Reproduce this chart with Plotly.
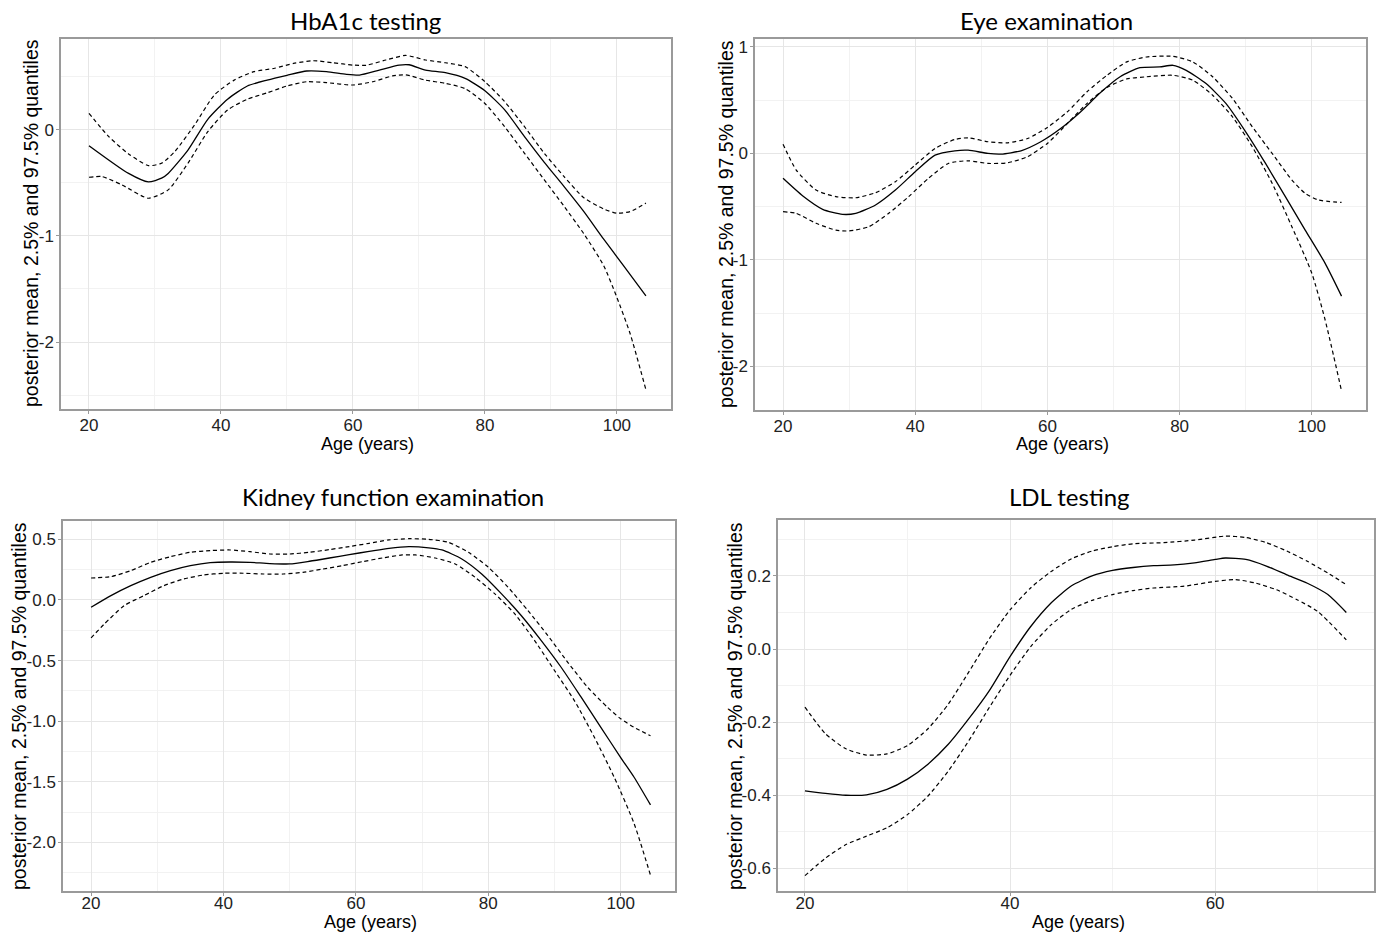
import plotly.graph_objects as go

W, H = 1379, 934

# ---------------- Data ----------------
# Panel 1: HbA1c testing
hba_age_mean = [20, 26, 29, 31, 32, 35, 38, 41, 44, 47, 50, 53, 56, 59, 61, 64, 67, 68.5, 71, 74, 77, 80, 83, 86, 89, 92, 95, 98, 101, 104.4]
hba_mean = [-0.148, -0.41, -0.49, -0.455, -0.41, -0.19, 0.10, 0.29, 0.415, 0.47, 0.515, 0.556, 0.55, 0.525, 0.518, 0.565, 0.612, 0.615, 0.565, 0.54, 0.487, 0.37, 0.19, -0.063, -0.305, -0.534, -0.77, -1.03, -1.28, -1.564]
hba_age_up = [20, 23, 26, 29, 31, 33, 36, 39, 42, 45, 48, 51, 54, 57, 60, 62, 65, 68, 71, 74, 77, 80, 83, 86, 89, 92, 95, 98, 100, 102, 104.4]
hba_up = [0.157, -0.063, -0.226, -0.336, -0.314, -0.204, 0.047, 0.33, 0.47, 0.55, 0.58, 0.628, 0.653, 0.634, 0.612, 0.61, 0.66, 0.703, 0.66, 0.634, 0.597, 0.455, 0.267, 0.031, -0.22, -0.44, -0.64, -0.745, -0.785, -0.77, -0.69]
hba_age_lo = [20, 22, 25, 29, 32, 35, 38, 41, 44, 47, 50, 53, 56, 60, 63, 66, 68, 71, 74, 77, 80, 83, 86, 89, 92, 95, 98, 100, 102, 104.4]
hba_lo = [-0.446, -0.44, -0.518, -0.644, -0.565, -0.314, -0.016, 0.188, 0.29, 0.35, 0.415, 0.455, 0.446, 0.424, 0.455, 0.51, 0.52, 0.47, 0.44, 0.39, 0.25, 0.03, -0.22, -0.47, -0.72, -0.98, -1.28, -1.58, -1.92, -2.45]

# Panel 2: Eye examination
eye_age_mean = [20, 23, 26, 29, 31, 34, 37, 40, 43, 46, 48, 51, 53, 56, 59, 62, 65, 68, 71, 74, 77, 79, 81, 84, 87, 90, 93, 96, 99, 102, 104.5]
eye_mean = [-0.234, -0.40, -0.525, -0.572, -0.5625, -0.484, -0.344, -0.172, -0.016, 0.025, 0.031, 0.0, -0.006, 0.025, 0.11, 0.234, 0.39, 0.57, 0.72, 0.806, 0.8125, 0.828, 0.78, 0.656, 0.47, 0.203, -0.094, -0.406, -0.72, -1.03, -1.34]
eye_age_up = [20, 22, 25, 28, 31, 34, 37, 40, 43, 46, 48, 51, 54, 57, 60, 63, 66, 69, 72, 75, 79, 82, 85, 88, 91, 94, 97, 99, 101, 104.5]
eye_up = [0.0875, -0.156, -0.344, -0.406, -0.416, -0.369, -0.266, -0.109, 0.047, 0.131, 0.147, 0.11, 0.1, 0.14, 0.244, 0.39, 0.58, 0.734, 0.86, 0.906, 0.9125, 0.86, 0.72, 0.516, 0.25, 0.0, -0.25, -0.375, -0.4375, -0.46]
eye_age_lo = [20, 22, 25, 28, 30, 33, 36, 39, 42, 45, 48, 51, 54, 57, 60, 63, 66, 69, 72, 75, 79, 82, 85, 88, 91, 94, 97, 100, 102, 104.5]
eye_lo = [-0.547, -0.5625, -0.656, -0.72, -0.728, -0.6875, -0.5625, -0.406, -0.234, -0.094, -0.069, -0.094, -0.0875, -0.03, 0.094, 0.28, 0.47, 0.62, 0.70, 0.72, 0.734, 0.6875, 0.547, 0.344, 0.0625, -0.28, -0.69, -1.125, -1.56, -2.23]

# Panel 3: Kidney function examination
kid_age_mean = [20, 23, 26, 29, 32, 35, 38, 41, 44, 47, 50, 53, 56, 59, 62, 65, 68, 71, 73, 76, 79, 82, 85, 88, 91, 94, 97, 100, 102, 104.5]
kid_mean = [-0.06, 0.036, 0.118, 0.187, 0.242, 0.283, 0.308, 0.313, 0.31, 0.30, 0.297, 0.319, 0.346, 0.374, 0.40, 0.426, 0.44, 0.43, 0.412, 0.338, 0.214, 0.05, -0.13, -0.335, -0.555, -0.80, -1.05, -1.30, -1.46, -1.69]
kid_age_up = [20, 23, 26, 29, 32, 35, 38, 41, 44, 47, 50, 53, 56, 59, 62, 65, 68, 71, 74, 77, 80, 83, 86, 89, 92, 95, 98, 100, 102, 104.5]
kid_up = [0.181, 0.192, 0.242, 0.31, 0.357, 0.393, 0.407, 0.412, 0.398, 0.379, 0.379, 0.393, 0.415, 0.44, 0.467, 0.495, 0.505, 0.5, 0.475, 0.393, 0.27, 0.104, -0.088, -0.294, -0.514, -0.72, -0.885, -0.98, -1.05, -1.12]
kid_age_lo = [20, 22, 25, 28, 31, 34, 37, 40, 43, 46, 49, 52, 55, 58, 61, 64, 67, 69, 72, 75, 78, 81, 84, 87, 90, 93, 96, 99, 102, 104.5]
kid_lo = [-0.313, -0.198, -0.047, 0.036, 0.118, 0.173, 0.206, 0.22, 0.22, 0.214, 0.214, 0.228, 0.255, 0.283, 0.316, 0.346, 0.371, 0.371, 0.346, 0.297, 0.187, 0.05, -0.115, -0.335, -0.582, -0.83, -1.13, -1.46, -1.84, -2.27]

# Panel 4: LDL testing
ldl_age_mean = [20, 22, 24, 26, 28, 30, 32, 34, 36, 38, 40, 42, 44, 46, 48, 50, 52, 54, 56, 58, 60, 61, 63, 65, 67, 69, 71, 72.8]
ldl_mean = [-0.388, -0.395, -0.40, -0.399, -0.384, -0.356, -0.315, -0.26, -0.19, -0.113, -0.021, 0.061, 0.126, 0.173, 0.20, 0.215, 0.223, 0.228, 0.23, 0.236, 0.245, 0.249, 0.245, 0.227, 0.203, 0.18, 0.149, 0.10]
ldl_age_up = [20, 22, 24, 26, 28, 30, 32, 34, 36, 38, 40, 42, 44, 46, 48, 50, 52, 55, 58, 61, 63, 65, 67, 69, 71, 72.8]
ldl_up = [-0.159, -0.232, -0.273, -0.29, -0.287, -0.264, -0.218, -0.15, -0.062, 0.029, 0.107, 0.167, 0.212, 0.247, 0.268, 0.28, 0.288, 0.291, 0.298, 0.309, 0.305, 0.291, 0.268, 0.24, 0.208, 0.176]
ldl_age_lo = [20, 22, 24, 26, 28, 30, 32, 34, 36, 38, 40, 42, 44, 46, 48, 50, 52, 54, 57, 60, 62, 64, 66, 68, 70, 72.8]
ldl_lo = [-0.62, -0.572, -0.535, -0.512, -0.489, -0.453, -0.402, -0.333, -0.25, -0.159, -0.072, 0.006, 0.066, 0.109, 0.133, 0.149, 0.16, 0.167, 0.172, 0.185, 0.19, 0.18, 0.162, 0.135, 0.103, 0.025]

titles = ["HbA1c testing", "Eye examination", "Kidney function examination", "LDL testing"]
x_title = "Age (years)"
y_title = "posterior mean, 2.5% and 97.5% quantiles"

x_ticks_long = [20, 40, 60, 80, 100]
x_ticks_ldl = [20, 40, 60]
y_ticks_hba = [0, -1, -2]
y_ticks_eye = [1, 0, -1, -2]
y_ticks_kid = [0.5, 0.0, -0.5, -1.0, -1.5, -2.0]
y_ticks_ldl = [0.2, 0.0, -0.2, -0.4, -0.6]
y_text_hba = ["0", "-1", "-2"]
y_text_eye = ["1", "0", "-1", "-2"]
y_text_kid = ["0.5", "0.0", "-0.5", "-1.0", "-1.5", "-2.0"]
y_text_ldl = ["0.2", "0.0", "-0.2", "-0.4", "-0.6"]

# ---------------- Layout geometry (pixels) ----------------
panels = [
    dict(x0=61, x1=671, y0=39, y1=409, xr=[15.76, 108.2], yr=[-2.632, 0.858], xso=-3),
    dict(x0=755, x1=1366, y0=39, y1=410, xr=[15.76, 108.2], yr=[-2.41, 1.075], xso=-3),
    dict(x0=63, x1=675, y0=521, y1=891, xr=[15.76, 108.2], yr=[-2.40, 0.651], xso=-7),
    dict(x0=778, x1=1374, y0=520, y1=891, xr=[17.37, 75.5], yr=[-0.662, 0.353], xso=-7),
]

series = [
    (hba_age_mean, hba_mean, hba_age_up, hba_up, hba_age_lo, hba_lo, x_ticks_long, y_ticks_hba, y_text_hba),
    (eye_age_mean, eye_mean, eye_age_up, eye_up, eye_age_lo, eye_lo, x_ticks_long, y_ticks_eye, y_text_eye),
    (kid_age_mean, kid_mean, kid_age_up, kid_up, kid_age_lo, kid_lo, x_ticks_long, y_ticks_kid, y_text_kid),
    (ldl_age_mean, ldl_mean, ldl_age_up, ldl_up, ldl_age_lo, ldl_lo, x_ticks_ldl, y_ticks_ldl, y_text_ldl),
]

def minor_vals(ticks):
    t = sorted(ticks)
    step = t[1] - t[0]
    return [t[0] - step / 2] + [a + step / 2 for a in t]

fig = go.Figure()
layout = dict(
    width=W, height=H, paper_bgcolor="white", plot_bgcolor="white",
    margin=dict(l=0, r=0, t=0, b=0), showlegend=False,
    font=dict(family="Liberation Sans, Arial", color="#333333"),
)
annotations = []

grid_major = "#e6e6e6"
grid_minor = "#f2f2f2"
border = "#9a9a9a"

for i, (p, s) in enumerate(zip(panels, series)):
    n = i + 1
    xa = "x" if n == 1 else f"x{n}"
    ya = "y" if n == 1 else f"y{n}"
    am, m, au, u, al, l, xt, yt, ytx = s
    for xs, ys, dash, w in [(am, m, "solid", 1.3), (au, u, "4px,3px", 1.2), (al, l, "4px,3px", 1.2)]:
        fig.add_trace(go.Scatter(x=xs, y=ys, mode="lines", xaxis=xa, yaxis=ya,
                                 line=dict(color="black", width=w, dash=dash, shape="spline", smoothing=0.6),
                                 hoverinfo="skip"))
    xd = [p["x0"] / W, p["x1"] / W]
    yd = [1 - p["y1"] / H, 1 - p["y0"] / H]
    key_x = "xaxis" if n == 1 else f"xaxis{n}"
    key_y = "yaxis" if n == 1 else f"yaxis{n}"
    common = dict(showgrid=True, gridcolor=grid_major, gridwidth=1, zeroline=False,
                  showline=True, mirror=True, linecolor=border, linewidth=1.5,
                  ticks="outside", ticklen=3, tickcolor=border,
                  tickfont=dict(size=17, color="#222222"))
    layout[key_x] = dict(domain=xd, range=p["xr"], anchor=ya, tickvals=xt, ticktext=[str(v) for v in xt],
                         ticklabelstandoff=p["xso"],
                         minor=dict(tickvals=minor_vals(xt), showgrid=True, gridcolor=grid_minor, gridwidth=1, ticks=""),
                         **common)
    layout[key_y] = dict(domain=yd, range=p["yr"], anchor=xa, tickvals=yt, ticktext=ytx,
                         ticklabelstandoff=-1,
                         minor=dict(tickvals=minor_vals(yt), showgrid=True, gridcolor=grid_minor, gridwidth=1, ticks=""),
                         **common)

# Titles and axis titles as annotations (pixel positions -> paper coordinates)
title_pos = [(366, 21), (1046, 21), (393, 496), (1069, 496)]
xlab_pos = [(367, 444), (1062, 444), (370, 922), (1078, 922)]
ylab_pos = [(31, 223), (726, 224), (19, 706), (735, 706)]
for i in range(4):
    tx, ty = title_pos[i]
    annotations.append(dict(text=titles[i], x=tx / W, y=1 - ty / H, xref="paper", yref="paper",
                            showarrow=False, xanchor="center", yanchor="middle",
                            font=dict(family="Lato, Open Sans", size=24, color="black")))
    lx, ly = xlab_pos[i]
    annotations.append(dict(text=x_title, x=lx / W, y=1 - ly / H, xref="paper", yref="paper",
                            showarrow=False, xanchor="center", yanchor="middle",
                            font=dict(family="Liberation Sans, Arial", size=18, color="black")))
    vx, vy = ylab_pos[i]
    annotations.append(dict(text=y_title, x=vx / W, y=1 - vy / H, xref="paper", yref="paper",
                            showarrow=False, xanchor="center", yanchor="middle", textangle=-90,
                            font=dict(family="Liberation Sans, Arial", size=19.5, color="black")))

layout["annotations"] = annotations
fig.update_layout(**layout)
fig.write_html("out.html", config={"displayModeBar": False},
               post_script="document.body.style.margin='0px';document.body.style.overflow='hidden';")
